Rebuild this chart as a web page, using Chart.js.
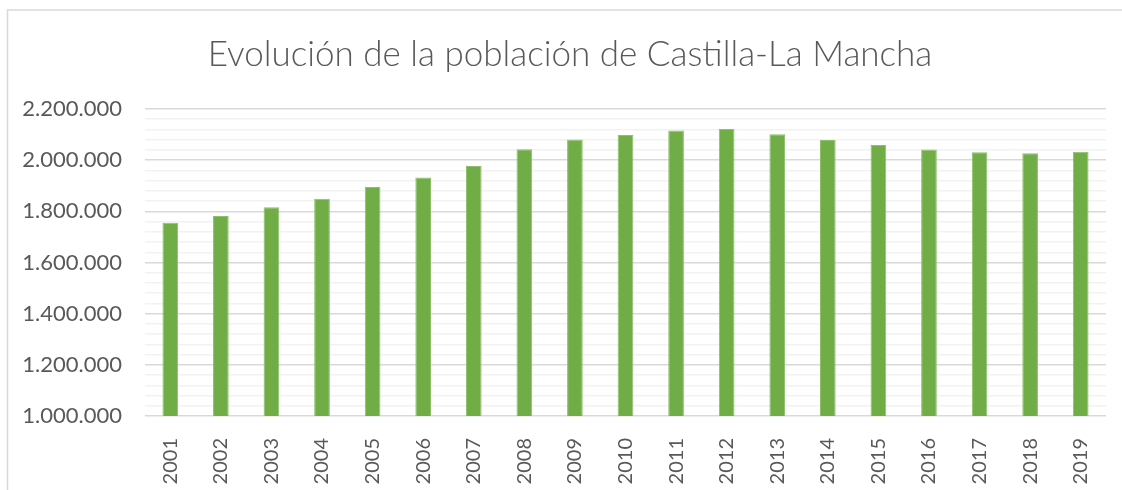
<!DOCTYPE html>
<html>
<head>
<meta charset="utf-8">
<script src="https://cdn.jsdelivr.net/npm/chart.js@4.4.1/dist/chart.umd.min.js"></script>
<style>
  html, body { margin: 0; padding: 0; background: #fff; }
  #wrap { width: 1122px; height: 490px; position: relative; }
</style>
</head>
<body>
<div id="wrap"><canvas id="chart"></canvas></div>
<script>
const titleText = "Evolución de la población de Castilla-La Mancha";
const years = ["2001", "2002", "2003", "2004", "2005", "2006", "2007", "2008", "2009", "2010",
  "2011", "2012", "2013", "2014", "2015", "2016", "2017", "2018", "2019"];
const population = [1755000, 1782000, 1816000, 1849000, 1895000, 1932000, 1977000, 2043000, 2081000, 2098000,
  2116000, 2122000, 2101000, 2079000, 2059000, 2042000, 2031000, 2027000, 2033000];
const yMin = 1000000;
const yMax = 2200000;
const majorStep = 200000;
const minorStep = 40000;

// thousands with dots, like the spanish excel format
function fmt(v) {
  return String(Math.round(v)).replace(/\B(?=(\d{3})+(?!\d))/g, ".");
}

// light frame of the excel chart object + the title, centred on the whole chart object
// (the object is a bit wider than the picture, so the title sits left of the plot centre)
const framePlugin = {
  id: "frame",
  beforeDraw(chart) {
    const c = chart.ctx;
    c.save();
    c.fillStyle = "#ffffff";
    c.fillRect(0, 0, chart.width, chart.height);
    c.strokeStyle = "#d9d9d9";
    c.lineWidth = 1.5;
    c.beginPath();
    c.moveTo(7.5, chart.height);
    c.lineTo(7.5, 10);
    c.lineTo(chart.width, 10);
    c.stroke();

    c.fillStyle = "#595959";
    c.font = "300 35px Lato";
    c.textAlign = "center";
    c.textBaseline = "middle";
    c.fillText(titleText, 570, 55);
    c.restore();
  }
};

new Chart(document.getElementById("chart"), {
  type: "bar",
  data: {
    labels: years,
    datasets: [{
      data: population,
      backgroundColor: "#70ad47",
      borderColor: "#8dbf6c",
      borderWidth: { left: 1, right: 1, top: 1, bottom: 0 },
      categoryPercentage: 1,
      barPercentage: 0.31
    }]
  },
  options: {
    responsive: true,
    maintainAspectRatio: false,
    animation: false,
    layout: { padding: { left: 0, right: 16, top: 109, bottom: 0 } },
    plugins: {
      legend: { display: false },
      tooltip: { enabled: false },
      title: { display: false }
    },
    scales: {
      x: {
        grid: { display: false },
        border: { display: false },
        ticks: {
          color: "#595959",
          font: { family: "Lato", size: 20 },
          minRotation: 90,
          maxRotation: 90,
          autoSkip: false,
          padding: 14
        },
        afterFit(scale) { scale.height = 74; }
      },
      y: {
        min: yMin,
        max: yMax,
        border: { display: false },
        grid: {
          drawTicks: false,
          lineWidth: 1.5,
          color: (ctx) => (ctx.tick && ctx.tick.value % majorStep === 0) ? "#d9d9d9" : "#f2f2f2"
        },
        ticks: {
          stepSize: minorStep,
          maxTicksLimit: 100,
          autoSkip: false,
          color: "#595959",
          font: { family: "Lato", size: 22 },
          padding: 23,
          callback: (v) => (v % majorStep === 0 ? fmt(v) : "")
        },
        afterFit(scale) { scale.width = 145; }
      }
    }
  },
  plugins: [framePlugin]
});
</script>
</body>
</html>
